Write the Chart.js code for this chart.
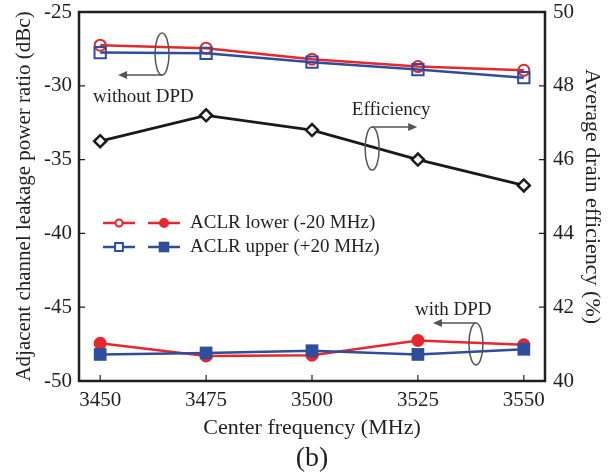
<!DOCTYPE html>
<html>
<head>
<meta charset="utf-8">
<script src="https://cdn.jsdelivr.net/npm/chart.js@4.4.1/dist/chart.umd.min.js"></script>
<style>
  html, body { margin: 0; padding: 0; background: #fff; }
</style>
</head>
<body>
<canvas id="aclr" width="608" height="476"></canvas>
<script>
// values
const freqs = [3450, 3475, 3500, 3525, 3550];
const lowerNoDpd = [-27.25, -27.45, -28.2, -28.7, -28.95];
const upperNoDpd = [-27.75, -27.8, -28.4, -28.9, -29.45];
const lowerDpd = [-47.45, -48.3, -48.25, -47.25, -47.55];
const upperDpd = [-48.2, -48.1, -47.95, -48.2, -47.85];
const efficiency = [46.5, 47.2, 46.8, 46.0, 45.3];

const xTicks = [3450, 3475, 3500, 3525, 3550];
const aclrTicks = [-50, -45, -40, -35, -30, -25];
const effTicks = [40, 42, 44, 46, 48, 50];

const red = '#e8262d';
const blue = '#2f4d9d';
const ink = '#231f20';
const serif = "'Liberation Serif', 'DejaVu Serif', serif";

function pts(vals) {
    return freqs.map((f, i) => ({ x: f, y: vals[i] }));
}

// ellipse + arrow marks, centres in data units
const callouts = [
    { text: 'without DPD', axis: 'y', cx: 3464.6, cy: -27.85, ry: 21, arrowY: 'bottom', dx: -44, tx: 3448.3, ty: -30.76 },
    { text: 'Efficiency', axis: 'y1', cx: 3514.2, cy: 46.3, ry: 21.5, arrowY: 'top', dx: 45, tx: 3509.4, ty: 47.34 },
    { text: 'with DPD', axis: 'y', cx: 3538.7, cy: -47.49, ry: 21, arrowY: 'top', dx: -43, tx: 3524.3, ty: -45.19 }
];

const legendRows = [
    { text: 'ACLR lower (-20 MHz)', color: red, style: 'circle', openR: 3.5, fillR: 5 },
    { text: 'ACLR upper (+20 MHz)', color: blue, style: 'rect', openR: 5.5, fillR: 7.5 }
];

const decor = {
    id: 'decor',
    afterDatasetsDraw(chart) {
        const ctx = chart.ctx;
        const a = chart.chartArea;
        const sx = chart.scales.x;
        ctx.save();

        // frame and inward ticks
        ctx.strokeStyle = ink;
        ctx.lineWidth = 2.5;
        ctx.strokeRect(a.left, a.top, a.right - a.left, a.bottom - a.top);
        ctx.lineWidth = 1.2;
        ctx.beginPath();
        xTicks.forEach(v => {
            const px = sx.getPixelForValue(v);
            ctx.moveTo(px, a.bottom);
            ctx.lineTo(px, a.bottom - 6);
        });
        aclrTicks.forEach(v => {
            const py = chart.scales.y.getPixelForValue(v);
            ctx.moveTo(a.left, py);
            ctx.lineTo(a.left + 6, py);
        });
        effTicks.forEach(v => {
            const py = chart.scales.y1.getPixelForValue(v);
            ctx.moveTo(a.right, py);
            ctx.lineTo(a.right - 6, py);
        });
        ctx.stroke();

        // callouts
        ctx.font = '19px ' + serif;
        ctx.textBaseline = 'middle';
        ctx.textAlign = 'left';
        callouts.forEach(c => {
            const sy = chart.scales[c.axis];
            const cx = sx.getPixelForValue(c.cx);
            const cy = sy.getPixelForValue(c.cy);
            ctx.strokeStyle = '#555';
            ctx.fillStyle = '#555';
            ctx.lineWidth = 1.5;
            ctx.beginPath();
            ctx.ellipse(cx, cy, 7, c.ry, 0, 0, Math.PI * 2);
            ctx.stroke();
            const ay = c.arrowY === 'top' ? cy - c.ry : cy + c.ry;
            const ex = cx + c.dx;
            const s = Math.sign(c.dx);
            ctx.beginPath();
            ctx.moveTo(cx, ay);
            ctx.lineTo(ex - s * 6, ay);
            ctx.stroke();
            ctx.beginPath();
            ctx.moveTo(ex, ay);
            ctx.lineTo(ex - s * 9, ay - 4);
            ctx.lineTo(ex - s * 9, ay + 4);
            ctx.closePath();
            ctx.fill();
            ctx.fillStyle = ink;
            ctx.fillText(c.text, sx.getPixelForValue(c.tx), sy.getPixelForValue(c.ty));
        });

        // legend
        legendRows.forEach((r, i) => {
            const y = a.top + 211 + i * 24;
            const x0 = a.left + 24;
            ctx.strokeStyle = r.color;
            ctx.lineWidth = 2.5;
            ctx.beginPath();
            ctx.moveTo(x0, y);
            ctx.lineTo(x0 + 32, y);
            ctx.moveTo(x0 + 45, y);
            ctx.lineTo(x0 + 77, y);
            ctx.stroke();
            ctx.lineWidth = 2;
            ctx.fillStyle = '#fff';
            Chart.helpers.drawPoint(ctx, { pointStyle: r.style, radius: r.openR, borderWidth: 2, rotation: 0 }, x0 + 16, y);
            ctx.fillStyle = r.color;
            Chart.helpers.drawPoint(ctx, { pointStyle: r.style, radius: r.fillR, borderWidth: 0, rotation: 0 }, x0 + 61, y);
            ctx.fillStyle = ink;
            ctx.fillText(r.text, a.left + 111, y);
        });

        // panel label
        ctx.font = '28px ' + serif;
        ctx.textAlign = 'center';
        ctx.fillText('(b)', (a.left + a.right) / 2, 459);
        ctx.restore();
    }
};

const tickFont = { family: serif, size: 21 };
const titleFont = { family: serif, size: 22 };

function noPad(s) {
    s.paddingTop = 0;
    s.paddingBottom = 0;
    s.paddingLeft = 0;
    s.paddingRight = 0;
}

new Chart(document.getElementById('aclr'), {
    type: 'line',
    data: {
        datasets: [
            {
                data: pts(lowerNoDpd), yAxisID: 'y', order: 2,
                borderColor: red, borderWidth: 2.5,
                pointStyle: 'circle', pointRadius: 5.5, pointBorderWidth: 2,
                pointBorderColor: red, pointBackgroundColor: 'rgba(255,255,255,0)'
            },
            {
                data: pts(upperNoDpd), yAxisID: 'y', order: 1,
                borderColor: blue, borderWidth: 2.5,
                pointStyle: 'rect', pointRadius: 8, pointBorderWidth: 2,
                pointBorderColor: blue, pointBackgroundColor: 'rgba(255,255,255,0)'
            },
            {
                data: pts(lowerDpd), yAxisID: 'y', order: 2,
                borderColor: red, borderWidth: 2.5,
                pointStyle: 'circle', pointRadius: 6.5, pointBorderWidth: 0,
                pointBackgroundColor: red
            },
            {
                data: pts(upperDpd), yAxisID: 'y', order: 1,
                borderColor: blue, borderWidth: 2.5,
                pointStyle: 'rect', pointRadius: 9, pointBorderWidth: 0,
                pointBackgroundColor: blue
            },
            {
                data: pts(efficiency), yAxisID: 'y1', order: 0,
                borderColor: '#1a1a1a', borderWidth: 2.8,
                pointStyle: 'rectRot', pointRadius: 6, pointBorderWidth: 2.5,
                pointBorderColor: '#1a1a1a', pointBackgroundColor: '#fff'
            }
        ]
    },
    options: {
        responsive: false,
        animation: false,
        layout: { padding: { top: 12, left: 0, right: 0, bottom: 0 } },
        plugins: {
            legend: { display: false },
            tooltip: { enabled: false }
        },
        scales: {
            x: {
                type: 'linear',
                min: 3445,
                max: 3555,
                afterBuildTicks: s => { s.ticks = xTicks.map(v => ({ value: v })); },
                afterFit: s => { s.height = 95; noPad(s); },
                grid: { display: false, drawTicks: false },
                border: { display: false },
                ticks: { font: tickFont, color: ink, padding: 7, maxRotation: 0, callback: v => String(v) },
                title: { display: true, text: 'Center frequency (MHz)', font: titleFont, color: ink, padding: { top: 0, bottom: 35 } }
            },
            y: {
                position: 'left',
                min: -50,
                max: -25,
                afterBuildTicks: s => { s.ticks = aclrTicks.map(v => ({ value: v })); },
                afterFit: s => { s.width = 79; noPad(s); },
                grid: { display: false, drawTicks: false },
                border: { display: false },
                ticks: { font: tickFont, color: ink, padding: 7 },
                title: { display: true, text: 'Adjacent channel leakage power ratio (dBc)', font: { family: serif, size: 21 }, color: ink, padding: { top: 12, bottom: 0 } }
            },
            y1: {
                position: 'right',
                min: 40,
                max: 50,
                afterBuildTicks: s => { s.ticks = effTicks.map(v => ({ value: v })); },
                afterFit: s => { s.width = 63; noPad(s); },
                grid: { display: false, drawTicks: false },
                border: { display: false },
                ticks: { font: tickFont, color: ink, padding: 8 },
                title: { display: true, text: 'Average drain efficiency (%)', font: titleFont, color: ink, padding: { top: 3, bottom: 0 } }
            }
        }
    },
    plugins: [decor]
});
</script>
</body>
</html>
